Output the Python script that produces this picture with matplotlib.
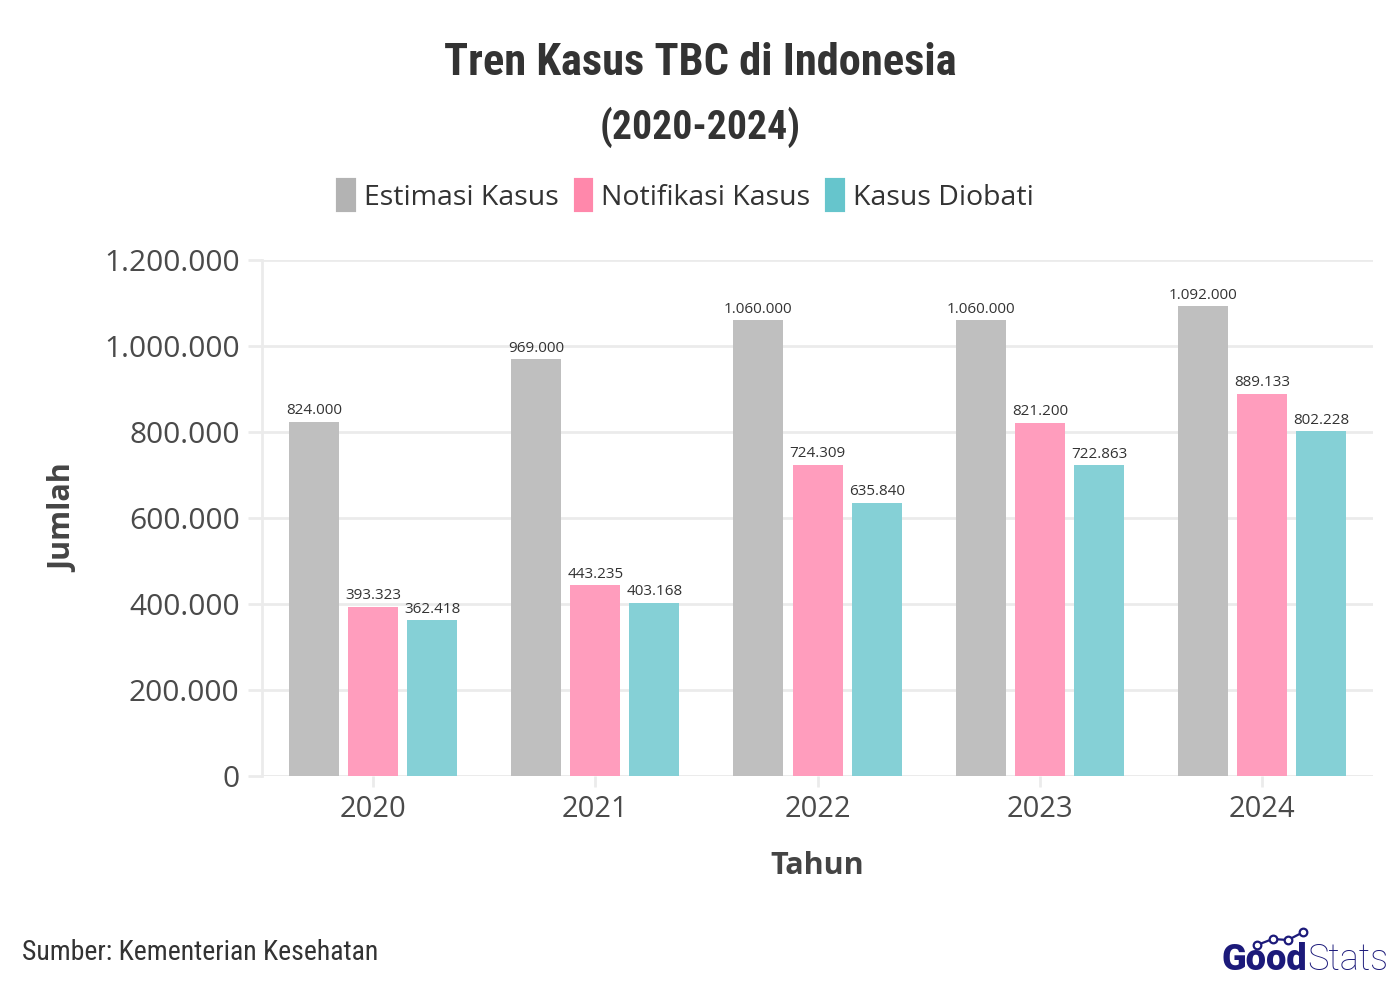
import numpy as np
import matplotlib
matplotlib.use('Agg')
import matplotlib.pyplot as plt
from matplotlib.patches import Patch
from matplotlib.lines import Line2D
from matplotlib import font_manager

years = ['2020', '2021', '2022', '2023', '2024']
estimasi = [824000, 969000, 1060000, 1060000, 1092000]
notifikasi = [393323, 443235, 724309, 821200, 889133]
diobati = [362418, 403168, 635840, 722863, 802228]
series_names = ['Estimasi Kasus', 'Notifikasi Kasus', 'Kasus Diobati']
bar_colors = ['#bfbfbf', '#ff9dbd', '#85d0d6']
legend_colors = ['#b3b3b3', '#ff88ab', '#66c5cc']
yticks = [0, 200000, 400000, 600000, 800000, 1000000, 1200000]

installed = {f.name for f in font_manager.fontManager.ttflist}
cond = 'Roboto Condensed' if 'Roboto Condensed' in installed else 'Roboto'
body = 'Open Sans'
navy = '#1c1a7a'


def fmt(v):
    return f'{v:,.0f}'.replace(',', '.')


fig = plt.figure(figsize=(14, 10), dpi=100)
ax = fig.add_axes([0.187, 0.224, 0.794, 0.516])

x = np.arange(len(years))
width = 0.225
step = 0.266
for i, (vals, name, c) in enumerate(zip([estimasi, notifikasi, diobati],
                                        series_names, bar_colors)):
    bars = ax.bar(x + (i - 1) * step, vals, width, color=c, zorder=3,
                  label=name)
    for b, v in zip(bars, vals):
        ax.annotate(fmt(v), (b.get_x() + b.get_width() / 2, v),
                    xytext=(0, 2.5), textcoords='offset points',
                    ha='center', va='bottom', fontsize=11,
                    family=body, color='#333333', fontweight='medium')

ax.set_xlim(-0.5, 4.5)
ax.set_ylim(0, 1200000)
ax.set_yticks(yticks)
ax.set_yticklabels([fmt(v) for v in yticks])
ax.set_xticks(x)
ax.set_xticklabels(years)
ax.grid(axis='y', color='#ebebeb', linewidth=2, zorder=0)
for s in ['top', 'right', 'bottom']:
    ax.spines[s].set_visible(False)
ax.spines['left'].set_color('#ebebeb')
ax.spines['left'].set_linewidth(2)
ax.axhline(0, color='#ebebeb', linewidth=2, zorder=1)
ax.tick_params(axis='y', length=10, width=2, color='#ebebeb', pad=6,
               labelsize=21.5, labelcolor='#4a4a4a')
ax.tick_params(axis='x', length=8, width=2, color='#ebebeb', pad=6,
               labelsize=21, labelcolor='#4a4a4a')
for lab in ax.get_xticklabels() + ax.get_yticklabels():
    lab.set_family(body)

ax.set_ylabel('Jumlah', fontsize=22, fontweight='bold', color='#444444',
              family=body, labelpad=18)
ax.set_xlabel('Tahun', fontsize=22, fontweight='bold', color='#444444',
              family=body, labelpad=19)

handles = [Patch(facecolor=c, edgecolor=c, linewidth=3, joinstyle='round')
           for c in legend_colors]
fig.legend(handles, series_names, loc='center', bbox_to_anchor=(0.49, 0.804),
           ncol=3, frameon=False, handlelength=0.55, handleheight=1.25,
           handletextpad=0.35, columnspacing=0.6,
           prop={'family': body, 'size': 20.5}, labelcolor='#333333')

fig.text(0.5, 0.937, 'Tren Kasus TBC di Indonesia', ha='center', va='center',
         family=cond, fontweight='bold', fontsize=32, color='#333333')
fig.text(0.5, 0.873, '(2020-2024)', ha='center', va='center',
         family=cond, fontweight='bold', fontsize=28.5, color='#333333')
fig.text(0.016, 0.048, 'Sumber: Kementerian Kesehatan', ha='left',
         va='center', family=cond, fontsize=20, color='#333333')

# logo
fig.text(0.9335, 0.040, 'Good', ha='right', va='center', family='Roboto',
         fontweight='black', fontsize=26, color=navy)
fig.text(0.9335, 0.040, 'Stats', ha='left', va='center', family='Roboto',
         fontweight='light', fontsize=26, color=navy)
fig.add_artist(Line2D([0.898, 0.909, 0.920, 0.931], [0.055, 0.061, 0.060, 0.068],
                      transform=fig.transFigure, color=navy, linewidth=1.6,
                      marker='o', markersize=5.5, markerfacecolor='white',
                      markeredgecolor=navy, markeredgewidth=1.6))

fig.savefig('out.png', dpi=100)
